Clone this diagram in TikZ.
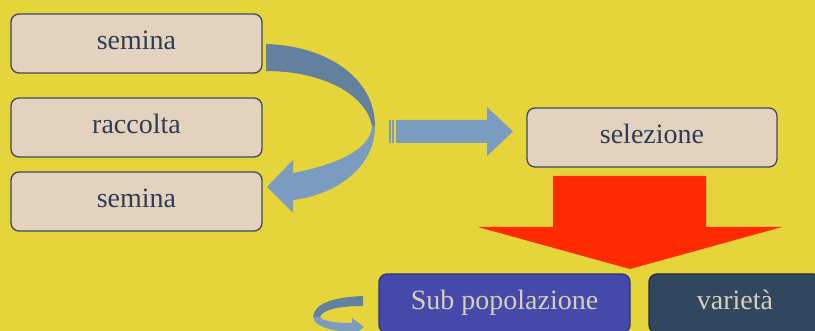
\documentclass[tikz,border=0pt]{standalone}
\usepackage{fontspec}
\setmainfont{Liberation Serif}
\usetikzlibrary{shapes,arrows}
\definecolor{bgyellow}{HTML}{E6D43B}
\definecolor{boxfill}{HTML}{E3D3BE}
\definecolor{boxline}{HTML}{3B4B60}
\definecolor{boxtext}{HTML}{2E3D55}
\definecolor{arrowdark}{HTML}{64809F}
\definecolor{arrowlight}{HTML}{7B9BC1}
\definecolor{redarrow}{HTML}{FF2A00}
\definecolor{subblue}{HTML}{4549A9}
\definecolor{subline}{HTML}{2E3380}
\definecolor{varfill}{HTML}{31475F}
\definecolor{varline}{HTML}{1F2E40}
\definecolor{lighttext}{HTML}{DACDBA}
\tikzstyle{block} = [draw=boxline, fill=boxfill, text=boxtext, rectangle, rounded corners=8pt, line width=1.3pt, minimum height=59pt, minimum width=251pt, text height=17pt, text depth=5pt, font=\fontsize{28}{32}\selectfont]
\tikzstyle{blueblock} = [block, draw=subline, fill=subblue, text=lighttext]
\tikzstyle{darkblock} = [block, draw=varline, fill=varfill, text=lighttext, minimum width=172pt]

\begin{document}
\begin{tikzpicture}[x=1pt, y=-1pt, node distance=84pt]
    % Background
    \useasboundingbox (0,0) rectangle (815,331);
    \fill [bgyellow] (0,0) rectangle (815,331);

    % Place nodes
    \node [block] (semina1) at (136.5,43.5) {semina};
    \node [block, below of = semina1] (raccolta) {raccolta};
    \node [block, below of = raccolta, yshift=10pt] (semina2) {semina};
    \node [block, minimum width=250pt] (selezione) at (652,137.5) {selezione};
    \node [blueblock] (subpop) at (504.5,303.5) {Sub popolazione};
    \node [darkblock] (varieta) at (735,303.5) {variet\`a};

    % Curved arrow semina -> semina
    \fill [arrowdark] (266,44) .. controls (330,46) and (375,80) .. (375,126)
        -- (372,126) .. controls (366,94) and (322,71) .. (266,71) -- cycle;
    \fill [arrowlight] (375,126) .. controls (375,168) and (335,195) .. (293,200)
        -- (293,213) -- (267,187) -- (293,160) -- (293,173)
        .. controls (335,165) and (371,150) .. (372,126) -- cycle;

    % Straight arrow to selezione
    \fill [arrowlight] (389,120) rectangle (391,143);
    \fill [arrowlight] (392,120) rectangle (394,143);
    \fill [arrowlight] (396,120) -- (487,120) -- (487,107) -- (513,131.5)
        -- (487,156) -- (487,143) -- (396,143) -- cycle;

    % Red arrow down
    \fill [redarrow] (553,176) -- (706,176) -- (706,227) -- (782,227)
        -- (630,269) -- (478,227) -- (553,227) -- cycle;

    % Small curl next to Sub popolazione
    \fill [arrowdark] (363,296) -- (363,306) .. controls (338,306) and (322,310) .. (320,317)
        -- (313,317) .. controls (314,303) and (335,297) .. (363,296) -- cycle;
    \fill [arrowlight] (313,317) .. controls (314,326) and (330,331) .. (352,332)
        -- (352,336) -- (364,327) -- (352,318) -- (352,323)
        .. controls (334,323) and (322,321) .. (320,317) -- cycle;
\end{tikzpicture}
\end{document}
